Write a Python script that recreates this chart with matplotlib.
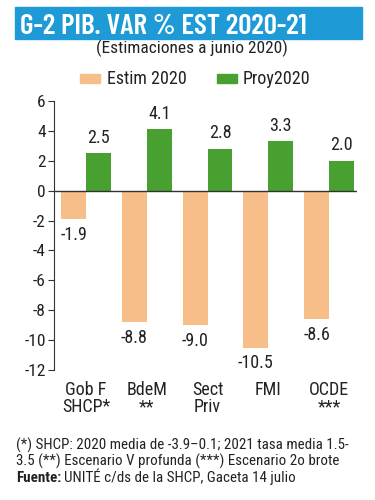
import matplotlib
matplotlib.use("Agg")
import matplotlib.pyplot as plt
from matplotlib.patches import Rectangle
import numpy as np

categories = ["Gob F\nSHCP*", "BdeM\n**", "Sect\nPriv", "FMI", "OCDE\n***"]
estim_2020 = [-1.9, -8.8, -9.0, -10.5, -8.6]
proy_2020 = [2.5, 4.1, 2.8, 3.3, 2.0]
yticks = [6, 4, 2, 0, -2, -4, -6, -8, -10, -12]

FONT = ["Roboto Condensed", "DejaVu Sans"]
plt.rcParams["font.family"] = FONT

ORANGE = "#F8BE89"
GREEN = "#47A02F"
BLUE = "#1E9AD6"
TXT = "#222222"

fig = plt.figure(figsize=(3.75, 5), dpi=100)
ax = fig.add_axes([0.144, 0.26, 0.808, 0.538])

x = np.arange(len(categories))
w = 0.41
ax.bar(x - w / 2, estim_2020, width=w, color=ORANGE)
ax.bar(x + w / 2, proy_2020, width=w, color=GREEN)

for xi, v in zip(x, estim_2020):
    ax.text(xi - w / 2, v - 0.45, f"{v:.1f}", ha="center", va="top", fontsize=13, color=TXT)
for xi, v in zip(x, proy_2020):
    ax.text(xi + w / 2, v + 0.45, f"{v:.1f}", ha="center", va="bottom", fontsize=13, color=TXT)

ax.axhline(0, color="#333333", lw=1.0)
ax.set_xlim(-0.527, 4.46)
ax.set_ylim(-12, 6)
ax.set_yticks(yticks)
ax.set_yticklabels([str(t) for t in yticks], fontsize=12.5, color=TXT)
ax.set_xticks(x)
ax.set_xticklabels(categories, fontsize=13, color=TXT, linespacing=0.95)
ax.tick_params(axis="x", length=0, pad=8)
ax.tick_params(axis="y", length=4, width=0.8, color="#333333", pad=2)
for s in ["top", "right", "bottom"]:
    ax.spines[s].set_visible(False)
ax.spines["left"].set_color("#333333")
ax.spines["left"].set_linewidth(0.8)

# title bar
fig.patches.append(Rectangle((15 / 375, 1 - 39 / 500), 347 / 375, 32 / 500,
                             transform=fig.transFigure, color=BLUE, zorder=0))
fig.text(20 / 375, 1 - 34 / 500, "G-2 PIB. VAR % EST 2020-21", fontsize=21, fontweight="semibold",
         color="white", ha="left", va="baseline", family=["Barlow Condensed", "Roboto Condensed", "DejaVu Sans"])
fig.text(192 / 375, 1 - 48 / 500, "(Estimaciones a junio 2020)", fontsize=12.5, color=TXT,
         ha="center", va="center")

# legend
fig.patches.append(Rectangle((80 / 375, 1 - 83 / 500), 20 / 375, 9 / 500,
                             transform=fig.transFigure, color=ORANGE))
fig.text(107 / 375, 1 - 78.5 / 500, "Estim 2020", fontsize=13, color=TXT, ha="left", va="center")
fig.patches.append(Rectangle((217 / 375, 1 - 83 / 500), 20 / 375, 9 / 500,
                             transform=fig.transFigure, color=GREEN))
fig.text(243 / 375, 1 - 78.5 / 500, "Proy2020", fontsize=13, color=TXT, ha="left", va="center")

# footnotes
FS = 10.8
fig.text(16 / 375, 1 - 450 / 500,
         "(*) SHCP: 2020 media de -3.9\u20130.1; 2021 tasa media 1.5-", fontsize=FS, color=TXT,
         ha="left", va="baseline")
fig.text(16 / 375, 1 - 466 / 500,
         "3.5 (**) Escenario V profunda (***) Escenario 2o brote", fontsize=FS, color=TXT,
         ha="left", va="baseline")
t = fig.text(16 / 375, 1 - 482 / 500, "Fuente:", fontsize=FS, fontweight="bold", color=TXT,
             ha="left", va="baseline")
fig.canvas.draw()
bb = t.get_window_extent()
fig.text((bb.x1 + 3) / 375, 1 - 482 / 500, "UNITÉ c/ds de la SHCP, Gaceta 14 julio", fontsize=FS,
         color=TXT, ha="left", va="baseline")

fig.savefig("out.png", dpi=100)
